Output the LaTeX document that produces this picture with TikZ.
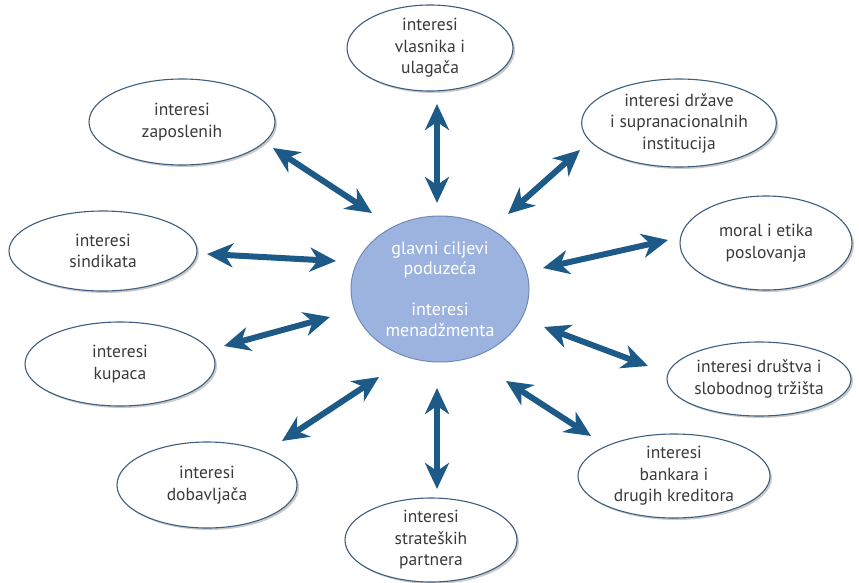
\documentclass[tikz,border=0pt]{standalone}
\usepackage{fontspec}
\setmainfont{PT Sans}
\usepackage{tikz}
\usetikzlibrary{shapes,arrows.meta,shadows,positioning}
\definecolor{arrowblue}{HTML}{1D5A87}
\definecolor{rimblue}{HTML}{3E5E7E}
\definecolor{goalfill}{HTML}{9DB3DF}
\definecolor{goalrim}{HTML}{7089B8}
\definecolor{txtgray}{HTML}{3A3A3A}
\tikzset{
  party/.style={ellipse,draw=rimblue,line width=1.1pt,fill=white,inner sep=0pt,
    align=center,text=txtgray,font=\fontsize{17.5}{21.5}\selectfont,
    drop shadow={shadow xshift=2pt,shadow yshift=-2pt,opacity=0.35,fill=black!60}},
  goal/.style={ellipse,draw=goalrim,line width=1pt,fill=goalfill,inner sep=0pt,
    align=center,text=white,font=\fontsize{18}{20.5}\selectfont},
  link/.style={arrowblue,line width=6pt,
    {Stealth[length=26pt,width=24pt,inset=8pt]}-{Stealth[length=26pt,width=24pt,inset=8pt]}}
}

\begin{document}
\begin{tikzpicture}[x=1pt,y=-1pt]
    \useasboundingbox (0,0) rectangle (859,583);

    \node[goal,minimum width=178pt,minimum height=146pt](goals) at (440,289)
      {glavni ciljevi\\poduzeća\\[20.5pt]interesi\\menadžmenta};

    \node[party,minimum width=166pt,minimum height=86pt](owners) at (430,48)
      {interesi\\vlasnika i\\ulagača};
    \node[party,minimum width=186pt,minimum height=86pt](staff) at (182,122)
      {interesi\\zaposlenih};
    \node[party,minimum width=192pt,minimum height=88pt](state) at (679,123)
      {interesi države\\i supranacionalnih\\institucija};
    \node[party,minimum width=188pt,minimum height=80pt](unions) at (103,251)
      {interesi\\sindikata};
    \node[party,minimum width=172pt,minimum height=94pt](ethics) at (766,243)
      {moral i etika\\poslovanja};
    \node[party,minimum width=190pt,minimum height=84pt](buyers) at (120,364)
      {interesi\\kupaca};
    \node[party,minimum width=184pt,minimum height=74pt](society) at (759,379)
      {interesi društva i\\slobodnog tržišta};
    \node[party,minimum width=192pt,minimum height=84pt](banks) at (674,476)
      {interesi\\bankara i\\drugih kreditora};
    \node[party,minimum width=180pt,minimum height=86pt](suppliers) at (207,485)
      {interesi\\dobavljača};
    \node[party,minimum width=172pt,minimum height=84pt](partners) at (431,540)
      {interesi\\strateških\\partnera};

    \coordinate(owners-a) at (437,104);   \coordinate(owners-b) at (437,203);
    \coordinate(staff-a) at (273,148);    \coordinate(staff-b) at (372,213);
    \coordinate(state-a) at (580,150);    \coordinate(state-b) at (508,214);
    \coordinate(unions-a) at (207,254);   \coordinate(unions-b) at (336,261);
    \coordinate(ethics-a) at (668,240);   \coordinate(ethics-b) at (543,268);
    \coordinate(buyers-a) at (224,346);   \coordinate(buyers-b) at (330,317);
    \coordinate(society-a) at (648,366);  \coordinate(society-b) at (544,327);
    \coordinate(banks-a) at (591,436);    \coordinate(banks-b) at (506,381);
    \coordinate(suppliers-a) at (282,441);\coordinate(suppliers-b) at (379,377);
    \coordinate(partners-a) at (437,489); \coordinate(partners-b) at (437,388);

    \begin{scope}
      \foreach \who in {owners,staff,state,unions,ethics,buyers,society,banks,suppliers,partners}
        \draw[link] (\who-a) -- (\who-b);
    \end{scope}
  \end{tikzpicture}
\end{document}
